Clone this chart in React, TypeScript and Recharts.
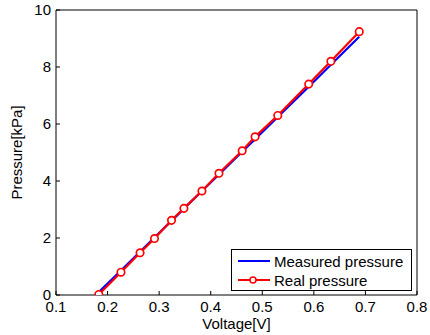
import { LineChart, Line, XAxis, YAxis } from "recharts";

const voltage = [0.183, 0.226, 0.263, 0.291, 0.324, 0.348, 0.383, 0.416, 0.461, 0.486, 0.53, 0.59, 0.633, 0.688];
const measured = [0.1, 0.86, 1.52, 2.02, 2.6, 3.03, 3.65, 4.23, 5.03, 5.47, 6.25, 7.31, 8.08, 9.06];
const real = [0.02, 0.8, 1.48, 1.98, 2.62, 3.04, 3.65, 4.27, 5.06, 5.55, 6.3, 7.4, 8.2, 9.24];

const xTicks = [0.1, 0.2, 0.3, 0.4, 0.5, 0.6, 0.7, 0.8];
const yTicks = [0, 2, 4, 6, 8, 10];

const measuredData = voltage.map((x, i) => ({ x, y: measured[i] }));
const realData = voltage.map((x, i) => ({ x, y: real[i] }));

const FONT = "'Liberation Sans', Arial, sans-serif";
const tickStyle = { fill: "#000", fontSize: 15, fontFamily: FONT };

function LegendBox() {
  return (
    <div
      style={{
        position: "absolute",
        left: 231,
        top: 249,
        width: 181,
        height: 42,
        border: "1px solid #000",
        background: "#fff",
        boxSizing: "border-box",
      }}
    >
      <svg width={179} height={40} style={{ display: "block" }}>
        <line x1={6} y1={11} x2={38} y2={11} stroke="#0000ff" strokeWidth={2} />
        <text x={42} y={17} fontFamily={FONT} fontSize={15} fill="#000">
          Measured pressure
        </text>
        <line x1={6} y1={30} x2={38} y2={30} stroke="#ff0000" strokeWidth={2} />
        <circle cx={21} cy={30} r={3} fill="#fff" stroke="#ff0000" strokeWidth={1.5} />
        <text x={42} y={36} fontFamily={FONT} fontSize={15} fill="#000">
          Real pressure
        </text>
      </svg>
    </div>
  );
}

export default function App() {
  return (
    <div style={{ position: "absolute", left: 0, top: 0, width: 430, height: 335, background: "#fff" }}>
      <LineChart
        width={430}
        height={335}
        margin={{ top: 9, right: 12, left: 0, bottom: 0 }}
      >
        <XAxis
          dataKey="x"
          type="number"
          domain={[0.1, 0.8]}
          ticks={xTicks}
          allowDataOverflow
          height={40}
          stroke="#000"
          tickSize={-4}
          tickMargin={10}
          tick={tickStyle}
          tickFormatter={(v: number) => v.toFixed(1)}
          label={{
            value: "Voltage[V]",
            position: "insideBottom",
            offset: 6,
            style: { fill: "#000", fontSize: 15, fontFamily: FONT },
          }}
        />
        <XAxis
          xAxisId="top"
          dataKey="x"
          orientation="top"
          type="number"
          domain={[0.1, 0.8]}
          ticks={xTicks}
          allowDataOverflow
          height={1}
          stroke="#000"
          tickSize={-4}
          tick={false}
        />
        <YAxis
          type="number"
          domain={[0, 10]}
          ticks={yTicks}
          allowDataOverflow
          width={56}
          stroke="#000"
          tickSize={-4}
          tickMargin={9}
          tick={tickStyle}
          label={{
            value: "Pressure[kPa]",
            angle: -90,
            position: "insideLeft",
            offset: 17,
            style: { fill: "#000", fontSize: 15, fontFamily: FONT, textAnchor: "middle" },
          }}
        />
        <YAxis
          yAxisId="right"
          orientation="right"
          type="number"
          domain={[0, 10]}
          ticks={yTicks}
          allowDataOverflow
          width={1}
          stroke="#000"
          tickSize={-4}
          tick={false}
        />
        <Line
          xAxisId="top"
          yAxisId="right"
          data={realData}
          dataKey="y"
          stroke="none"
          dot={false}
          activeDot={false}
          legendType="none"
          isAnimationActive={false}
        />
        <Line
          data={measuredData}
          dataKey="y"
          name="Measured pressure"
          stroke="#0000ff"
          strokeWidth={2.2}
          dot={false}
          isAnimationActive={false}
        />
        <Line
          data={realData}
          dataKey="y"
          name="Real pressure"
          stroke="#ff0000"
          strokeWidth={2.2}
          dot={{ r: 3.7, fill: "#fff", stroke: "#ff0000", strokeWidth: 1.7 }}
          isAnimationActive={false}
        />
      </LineChart>
      <LegendBox />
    </div>
  );
}
